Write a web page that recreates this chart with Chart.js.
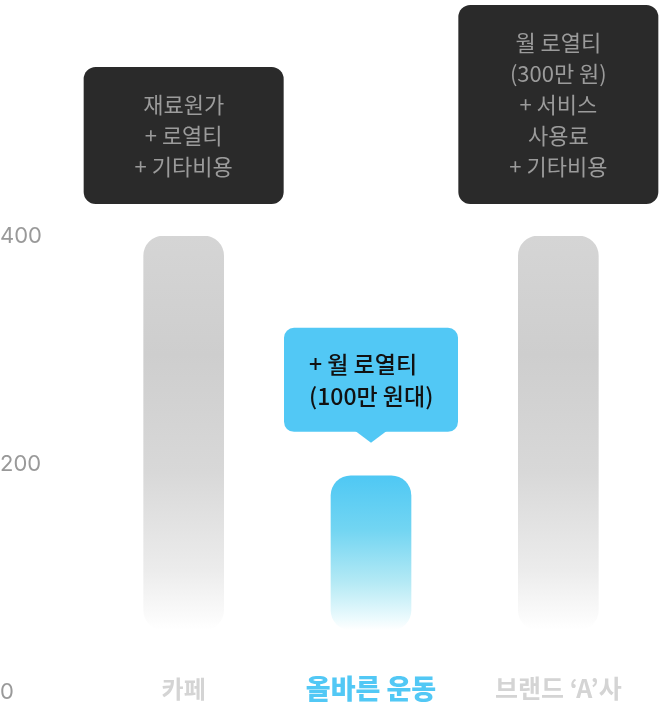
<!DOCTYPE html>
<html>
<head>
<meta charset="utf-8">
<script src="https://cdn.jsdelivr.net/npm/chart.js@4"></script>
<style>
  html, body { margin: 0; padding: 0; background: #ffffff; }
  #wrap { width: 670px; height: 706px; }
</style>
</head>
<body>
<div id="wrap"><canvas id="c" width="670" height="706"></canvas></div>
<script>
const categories = ['카페', '올바른 운동', "브랜드 ‘A’사"];
const barStart = [55, 55, 55];
const barValues = [400, 190, 400];
const yTicks = [0, 200, 400];
const categoryColors = ['#d4d4d4', '#52c8f5', '#d4d4d4'];
const categoryFontSizes = [24, 27, 25];
const noteCafe = ['재료원가', '+ 로열티', '+ 기타비용'];
const noteOurs = ['+ 월 로열티', '(100만 원대)'];
const noteBrand = ['월 로열티', '(300만 원)', '+ 서비스', '사용료', '+ 기타비용'];

const FONT = "'Noto Sans CJK KR', 'Noto Sans', sans-serif";

function barGradient(ctx) {
  const chart = ctx.chart;
  const y = chart.scales.y;
  if (!y || !chart.chartArea || ctx.raw == null) return '#d0d0d0';
  const top = y.getPixelForValue(ctx.raw[1]);
  const bottom = y.getPixelForValue(ctx.raw[0]);
  const g = chart.ctx.createLinearGradient(0, top, 0, bottom);
  if (ctx.dataIndex === 1) {
    g.addColorStop(0, '#4fc8f4');
    g.addColorStop(0.35, '#72d5f2');
    g.addColorStop(0.7, '#b6eaf5');
    g.addColorStop(0.92, '#eafafd');
    g.addColorStop(1, '#ffffff');
  } else {
    g.addColorStop(0, '#d5d5d5');
    g.addColorStop(0.3, '#cecece');
    g.addColorStop(0.6, '#d8d8d8');
    g.addColorStop(0.85, '#ececec');
    g.addColorStop(1, '#ffffff');
  }
  return g;
}

const annotations = {
  id: 'annotations',
  afterDatasetsDraw(chart) {
    const ctx = chart.ctx;
    const meta = chart.getDatasetMeta(0);
    const yScale = chart.scales.y;
    const xScale = chart.scales.x;
    ctx.save();

    // dark note boxes
    const darkNotes = [[0, noteCafe], [2, noteBrand]];
    darkNotes.forEach(([i, lines]) => {
      const bar = meta.data[i];
      const w = 200, lh = 31;
      const h = lines.length * lh + 44;
      const bottom = bar.y - 32;
      const topY = bottom - h;
      ctx.fillStyle = '#2a2a2a';
      ctx.beginPath();
      ctx.roundRect(bar.x - w / 2, topY, w, h, 12);
      ctx.fill();
      ctx.fillStyle = '#9b9b9b';
      ctx.font = '400 22px ' + FONT;
      ctx.textAlign = 'center';
      ctx.textBaseline = 'middle';
      lines.forEach((t, k) => {
        ctx.fillText(t, bar.x, topY + 22 + lh / 2 + k * lh);
      });
    });

    // blue callout
    {
      const bar = meta.data[1];
      const w = 174, lh = 32;
      const h = noteOurs.length * lh + 40;
      const tip = bar.y - 33;
      const bottom = tip - 11;
      const topY = bottom - h;
      const left = bar.x - 87;
      ctx.fillStyle = '#52c8f5';
      ctx.beginPath();
      ctx.roundRect(left, topY, w, h, 10);
      ctx.fill();
      ctx.beginPath();
      ctx.moveTo(bar.x - 16, bottom - 1);
      ctx.lineTo(bar.x + 16, bottom - 1);
      ctx.lineTo(bar.x, tip);
      ctx.closePath();
      ctx.fill();
      ctx.fillStyle = '#111111';
      ctx.font = '500 23px ' + FONT;
      ctx.textAlign = 'left';
      ctx.textBaseline = 'middle';
      noteOurs.forEach((t, k) => {
        ctx.fillText(t, left + 25, topY + 20 + lh / 2 + k * lh);
      });
    }

    // category labels
    ctx.textAlign = 'center';
    ctx.textBaseline = 'middle';
    const baseY = yScale.getPixelForValue(0) - 4;
    categories.forEach((c, i) => {
      ctx.font = (i === 1 ? '900 ' : '700 ') + categoryFontSizes[i] + 'px ' + FONT;
      ctx.fillStyle = categoryColors[i];
      ctx.fillText(c, xScale.getPixelForValue(i), baseY);
    });
    ctx.restore();
  }
};

new Chart(document.getElementById('c'), {
  type: 'bar',
  data: {
    labels: categories,
    datasets: [{
      data: barValues.map((v, i) => [barStart[i], v]),
      backgroundColor: barGradient,
      borderRadius: 20,
      borderSkipped: false,
      barThickness: 80
    }]
  },
  options: {
    responsive: false,
    animation: false,
    devicePixelRatio: 1,
    layout: { padding: { top: 236, bottom: 10, right: 18, left: 0 } },
    plugins: { legend: { display: false }, tooltip: { enabled: false } },
    scales: {
      x: { display: false, offset: true },
      y: {
        min: 0,
        max: 400,
        afterBuildTicks(scale) { scale.ticks = yTicks.map(v => ({ value: v })); },
        afterFit(scale) { scale.width = 90; },
        grid: { display: false },
        border: { display: false },
        ticks: {
          color: '#999999',
          crossAlign: 'far',
          padding: 0,
          font: { family: "Inter, 'Noto Sans', sans-serif", size: 22, weight: '400' }
        }
      }
    }
  },
  plugins: [annotations]
});
</script>
</body>
</html>
